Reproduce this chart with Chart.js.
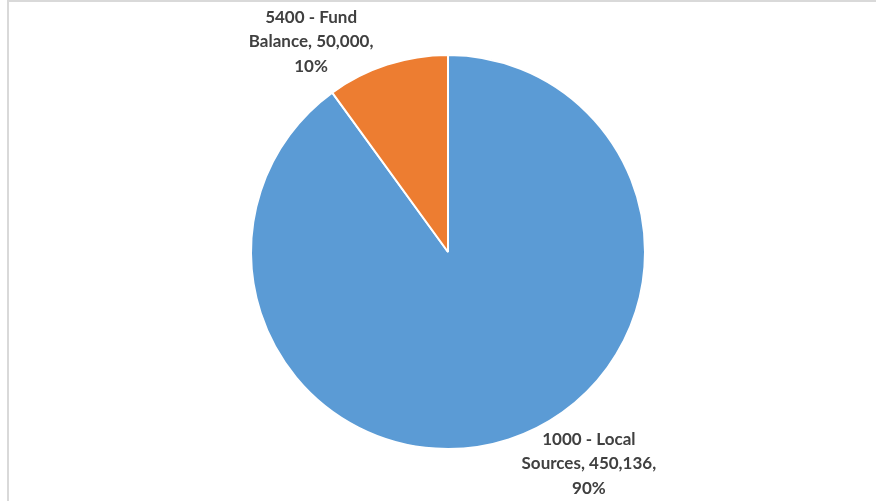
<!DOCTYPE html>
<html>
<head>
<meta charset="utf-8">
<script src="https://cdn.jsdelivr.net/npm/chart.js@4"></script>
<style>
  html, body { margin: 0; padding: 0; background: #fff; }
  #wrap { position: relative; width: 876px; height: 501px; overflow: hidden; }
  #frame { position: absolute; left: 7px; top: 0; width: 900px; height: 600px;
           border-left: 2px solid #d9d9d9; border-top: 2px solid #d9d9d9; }
  canvas { position: absolute; left: 0; top: 0; }
</style>
</head>
<body>
<div id="wrap">
  <div id="frame"></div>
  <canvas id="pie" width="876" height="501"></canvas>
</div>
<script>
const labels = ['1000 - Local Sources', '5400 - Fund Balance'];
const values = [450136, 50000];
const colors = ['#5B9BD5', '#ED7D31'];
// label text lines as Excel wrapped them
const labelLines = [
  ['1000 - Local', 'Sources, 450,136,', '90%'],
  ['5400 - Fund', 'Balance, 50,000,', '10%'],
];
// where each label sits, relative to pie center, in radii
const labelOffsets = [[0.715, 1.075], [-0.695, -1.066]];

const outsideLabels = {
  id: 'outsideLabels',
  afterDatasetsDraw(chart) {
    const ctx = chart.ctx;
    const arcs = chart.getDatasetMeta(0).data;
    ctx.save();
    ctx.font = 'bold 17px Lato, "Open Sans", sans-serif';
    ctx.fillStyle = '#404040';
    ctx.textAlign = 'center';
    ctx.textBaseline = 'middle';
    arcs.forEach((arc, i) => {
      const r = arc.outerRadius;
      const cx = arc.x + labelOffsets[i][0] * r;
      const cy = arc.y + labelOffsets[i][1] * r;
      const lines = labelLines[i];
      const lh = 24.5;
      lines.forEach((t, k) => {
        ctx.fillText(t, cx, cy + (k - (lines.length - 1) / 2) * lh);
      });
    });
    ctx.restore();
  }
};

const chart = new Chart(document.getElementById('pie').getContext('2d'), {
  type: 'pie',
  data: {
    labels: labels,
    datasets: [{
      data: values,
      backgroundColor: colors,
      borderColor: '#ffffff',
      borderWidth: 2,
    }]
  },
  options: {
    responsive: false,
    animation: false,
    layout: { padding: { top: 54, bottom: 51, left: 20, right: 0 } },
    plugins: {
      legend: { display: false },
      tooltip: { enabled: false }
    }
  },
  plugins: [outsideLabels]
});
</script>
</body>
</html>
